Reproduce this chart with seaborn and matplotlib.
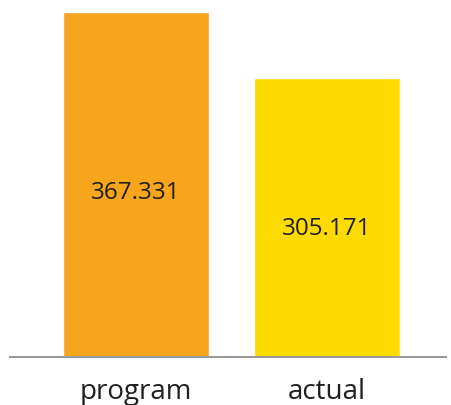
import matplotlib
matplotlib.use("Agg")
import matplotlib.pyplot as plt
import seaborn as sns
import pandas as pd

categories = ["program", "actual"]
values = [367.331, 305.171]
bar_colors = ["#F7A51D", "#FDDB00"]

sns.set_theme(style="white")
plt.rcParams["font.family"] = ["Open Sans", "DejaVu Sans"]

df = pd.DataFrame({"category": categories, "value": values})

fig = plt.figure(figsize=(4.51, 4.05), dpi=100)
ax = fig.add_axes([10 / 451, 48 / 405, 436 / 451, 345 / 405])

sns.barplot(data=df, x="category", y="value", hue="category",
            palette=bar_colors, width=0.76, saturation=1,
            legend=False, ax=ax)

# value labels inside each bar
for i, v in enumerate(values):
    ax.text(i, v * 0.535, f"{v:.3f}", ha="center", va="center",
            fontsize=17.5, color="#231F20")

ax.set_ylim(42.4, values[0])
ax.set_xlim(-0.66, 1.623)
ax.set_xlabel("")
ax.set_ylabel("")
ax.set_yticks([])
for side in ["top", "left", "right"]:
    ax.spines[side].set_visible(False)
ax.spines["bottom"].set_color("#999999")
ax.spines["bottom"].set_linewidth(1.5)
ax.tick_params(axis="x", length=0, pad=15, labelsize=20, labelcolor="#231F20")

fig.savefig("out.png", dpi=100)
